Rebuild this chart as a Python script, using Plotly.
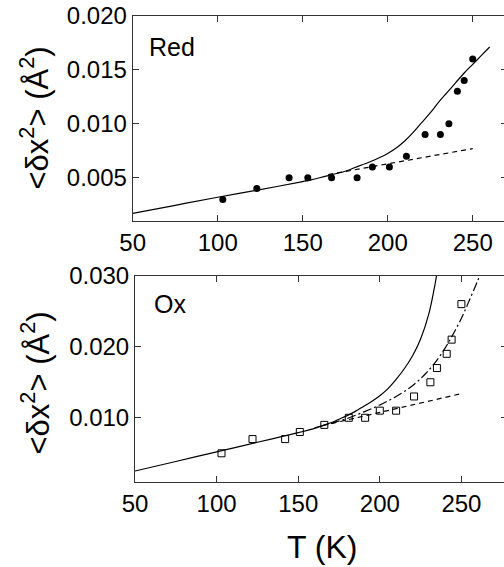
import plotly.graph_objects as go

# ---- Data ----
red_T = [103, 123, 142, 153, 167, 182, 191, 201, 211, 222, 231, 236, 241, 245, 250]
red_msd = [0.0030, 0.0040, 0.0050, 0.0050, 0.0050, 0.0050, 0.0060, 0.0060,
           0.0070, 0.0090, 0.0090, 0.0100, 0.0130, 0.0140, 0.0160]
red_fit_T = [50, 75, 100, 125, 150, 155, 160, 165, 170, 175, 180, 185, 190, 195,
             200, 205, 210, 215, 220, 225, 230, 235, 240, 245, 250, 255, 260]
red_fit = [0.0017, 0.00245, 0.0032, 0.0039, 0.00465, 0.0048, 0.0050, 0.0052, 0.0054,
           0.0056, 0.0059, 0.0062, 0.0065, 0.00685, 0.00725, 0.00775, 0.0084, 0.0092,
           0.0101, 0.0110, 0.0120, 0.0129, 0.0138, 0.0147, 0.0155, 0.0163, 0.0171]
red_harm_T = [165, 250]
red_harm = [0.0053, 0.0077]

ox_T = [103, 122, 142, 151, 166, 181, 191, 200, 210, 221, 231, 235, 241, 244, 250]
ox_msd = [0.005, 0.007, 0.007, 0.008, 0.009, 0.010, 0.010, 0.011, 0.011,
          0.013, 0.015, 0.017, 0.019, 0.021, 0.026]
ox_fit_T = [50, 75, 100, 125, 150, 155, 160, 165, 170, 175, 180, 185, 190, 195, 200,
            205, 210, 215, 220, 225, 230, 234, 236]
ox_fit = [0.0025, 0.00385, 0.0052, 0.00655, 0.0079, 0.0082, 0.0085, 0.0089, 0.0093,
          0.0098, 0.0103, 0.0109, 0.0116, 0.0123, 0.0131, 0.0141, 0.0154, 0.0169,
          0.0187, 0.0211, 0.0246, 0.0290, 0.0318]
ox_fit2_T = [160, 170, 180, 190, 200, 210, 220, 228, 234, 240, 245, 250, 255, 260, 262]
ox_fit2 = [0.0086, 0.0092, 0.0099, 0.0108, 0.0118, 0.0130, 0.0145, 0.0162, 0.0178,
           0.0198, 0.0218, 0.0240, 0.0266, 0.0293, 0.0306]
ox_harm_T = [165, 250]
ox_harm = [0.0089, 0.0134]

x_ticks = [50, 100, 150, 200, 250]
red_yticks = [0.005, 0.010, 0.015, 0.020]
ox_yticks = [0.010, 0.020, 0.030]

# figure is a little wider than the window so the right frame sits just off-picture
W, H = 507, 567
FONT = "Liberation Sans, Arial, sans-serif"

fig = go.Figure()

# Top panel (Red)
fig.add_trace(go.Scatter(x=red_fit_T, y=red_fit, mode="lines",
                         line=dict(color="black", width=1.2, shape="spline", smoothing=1.0),
                         xaxis="x", yaxis="y", showlegend=False))
fig.add_trace(go.Scatter(x=red_harm_T, y=red_harm, mode="lines",
                         line=dict(color="black", width=1.2, dash="5px,4px"),
                         xaxis="x", yaxis="y", showlegend=False))
fig.add_trace(go.Scatter(x=red_T, y=red_msd, mode="markers",
                         marker=dict(symbol="circle", size=7, color="black"),
                         xaxis="x", yaxis="y", showlegend=False))

# Bottom panel (Ox)
fig.add_trace(go.Scatter(x=ox_fit_T, y=ox_fit, mode="lines",
                         line=dict(color="black", width=1.2, shape="spline", smoothing=1.0),
                         xaxis="x2", yaxis="y2", showlegend=False))
fig.add_trace(go.Scatter(x=ox_fit2_T, y=ox_fit2, mode="lines",
                         line=dict(color="black", width=1.2, shape="spline", smoothing=1.0,
                                   dash="9px,3px,2px,3px"),
                         xaxis="x2", yaxis="y2", showlegend=False))
fig.add_trace(go.Scatter(x=ox_harm_T, y=ox_harm, mode="lines",
                         line=dict(color="black", width=1.2, dash="5px,4px"),
                         xaxis="x2", yaxis="y2", showlegend=False))
fig.add_trace(go.Scatter(x=ox_T, y=ox_msd, mode="markers",
                         marker=dict(symbol="square-open", size=7, color="black",
                                     line=dict(width=1, color="black")),
                         xaxis="x2", yaxis="y2", showlegend=False))

axis_common = dict(showline=True, linecolor="#333", linewidth=1, mirror="ticks",
                   ticks="inside", ticklen=6, tickwidth=1, tickcolor="#333",
                   showgrid=False, zeroline=False, automargin=False,
                   tickfont=dict(family=FONT, size=24, color="black"))

top_y0, top_y1 = 15.7, 221.0
bot_y0, bot_y1 = 275.7, 481.7
top_x0, bot_x0 = 132.7, 135.0

fig.update_layout(
    width=W, height=H,
    margin=dict(l=0, r=0, t=0, b=0, pad=0),
    paper_bgcolor="white", plot_bgcolor="white",
    font=dict(family=FONT, color="black"),
    xaxis=dict(domain=[top_x0 / W, 1], range=[50, 50 + (W - top_x0) / 1.7],
               tickvals=x_ticks, anchor="y", **axis_common),
    yaxis=dict(domain=[1 - top_y1 / H, 1 - top_y0 / H], range=[0.001, 0.020],
               tickvals=red_yticks, tickformat=".3f", anchor="x", **axis_common),
    xaxis2=dict(domain=[bot_x0 / W, 1], range=[50, 50 + (W - bot_x0) / 1.632],
                tickvals=x_ticks, anchor="y2", **axis_common),
    yaxis2=dict(domain=[1 - bot_y1 / H, 1 - bot_y0 / H], range=[0.001, 0.030],
                tickvals=ox_yticks, tickformat=".3f", anchor="x2", **axis_common),
)

ytitle = "<δx<sup>2</sup>> (Å<sup>2</sup>)"
annos = [
    dict(text=ytitle, x=35 / W, y=1 - 118.5 / H, textangle=-90,
         font=dict(family=FONT, size=31)),
    dict(text=ytitle, x=35 / W, y=1 - 383.5 / H, textangle=-90,
         font=dict(family=FONT, size=31)),
    dict(text="T (K)", x=322 / W, y=1 - 547 / H, font=dict(family=FONT, size=32)),
    dict(text="Red", x=147 / W, y=1 - 47 / H, xanchor="left", font=dict(family=FONT, size=25)),
    dict(text="Ox", x=152 / W, y=1 - 304 / H, xanchor="left", font=dict(family=FONT, size=25)),
]
for a in annos:
    a.setdefault("xanchor", "center")
    fig.add_annotation(xref="paper", yref="paper", yanchor="middle", showarrow=False, **a)

fig.write_html("out.html", config={"displayModeBar": False},
               post_script="document.body.style.margin='0';document.body.style.overflow='hidden';")
